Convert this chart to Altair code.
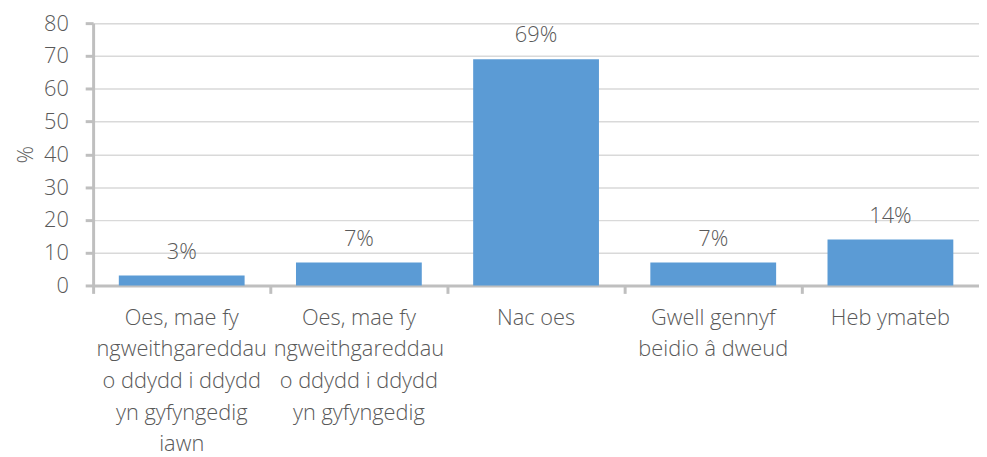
import altair as alt
import pandas as pd

categories = [
    "Oes, mae fy|ngweithgareddau|o ddydd i ddydd|yn gyfyngedig|iawn",
    "Oes, mae fy|ngweithgareddau|o ddydd i ddydd|yn gyfyngedig",
    "Nac oes",
    "Gwell gennyf|beidio â dweud",
    "Heb ymateb",
]
values = [3, 7, 69, 7, 14]
labels = ["3%", "7%", "69%", "7%", "14%"]
y_ticks = [0, 10, 20, 30, 40, 50, 60, 70, 80]

df = pd.DataFrame({"cat": categories, "val": values, "lab": labels})

FONT = "Open Sans"
TXT = "#595959"
W = 300

xscale = alt.Scale(domain=categories, paddingInner=0, paddingOuter=0)
yscale = alt.Scale(domain=[0, 80])

yaxis = alt.Axis(title="%", values=y_ticks, tickSize=8,
                 tickColor="#BFBFBF", tickWidth=3, domainColor="#BFBFBF",
                 domainWidth=3, gridColor="#D9D9D9", gridWidth=1.5,
                 labelFont=FONT, labelFontSize=22, labelColor=TXT,
                 labelFontWeight=W, labelPadding=17, titleFont=FONT,
                 titleFontSize=22, titleColor=TXT, titleFontWeight=W,
                 titlePadding=6)

bars = alt.Chart(df).mark_bar(color="#5B9BD5", width=alt.RelativeBandSize(0.71)).encode(
    x=alt.X("cat:N", sort=categories, scale=xscale,
            axis=alt.Axis(title=None, labels=False, bandPosition=0, ticks=True, orient="bottom",
                          tickSize=8, tickColor="#BFBFBF", tickWidth=3,
                          domainColor="#BFBFBF", domainWidth=3, grid=False)),
    y=alt.Y("val:Q", scale=yscale, axis=yaxis),
)

texts = alt.Chart(df).mark_text(font=FONT, fontSize=22, fontWeight=W, color=TXT,
                                baseline="alphabetic", dy=-17).encode(
    x=alt.X("cat:N", sort=categories, scale=xscale,
            axis=alt.Axis(title=None, ticks=False, domain=False, grid=False, orient="bottom",
                          labelAngle=0, labelFont=FONT, labelFontSize=22, labelFontWeight=W,
                          labelColor=TXT, labelPadding=22, labelLineHeight=32,
                          labelExpr="split(datum.value, '|')", labelLimit=300)),
    y=alt.Y("val:Q", scale=yscale, axis=yaxis),
    text="lab:N",
)

chart = alt.layer(bars, texts).resolve_axis(x="independent").properties(
    width=895, height=265, padding={"left": 6, "top": 2, "right": 0, "bottom": 0}
).configure_view(stroke=None).configure(background="white")

chart.save("out.html", embed_options={"renderer": "svg", "actions": False})
